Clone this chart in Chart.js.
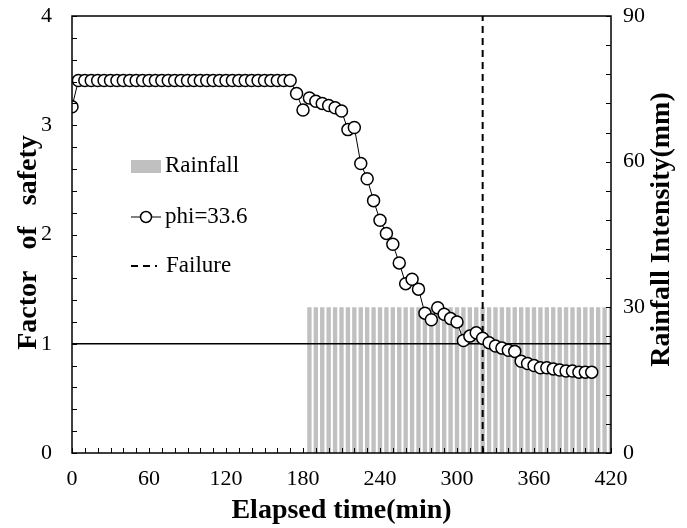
<!DOCTYPE html>
<html>
<head>
<meta charset="utf-8">
<script src="https://cdn.jsdelivr.net/npm/chart.js@4.4.0/dist/chart.umd.min.js"></script>
<style>
  html, body { margin: 0; padding: 0; background: #fff; }
  #wrap { width: 687px; height: 528px; }
</style>
</head>
<body>
<div id="wrap"><canvas id="chart" width="687" height="528"></canvas></div>
<script>
// elapsed time (min) of each factor of safety point
var fosTime = [0, 5, 10, 15, 20, 25, 30, 35, 40, 45, 50, 55, 60, 65, 70, 75, 80, 85, 90, 95,
  100, 105, 110, 115, 120, 125, 130, 135, 140, 145, 150, 155, 160, 165, 170, 175, 180, 185, 190, 195,
  200, 205, 210, 215, 220, 225, 230, 235, 240, 245, 250, 255, 260, 265, 270, 275, 280, 285, 290, 295,
  300, 305, 310, 315, 320, 325, 330, 335, 340, 345, 350, 355, 360, 365, 370, 375, 380, 385, 390, 395,
  400, 405];
var fosValue = [3.17, 3.41, 3.41, 3.41, 3.41, 3.41, 3.41, 3.41, 3.41, 3.41, 3.41, 3.41, 3.41, 3.41, 3.41, 3.41, 3.41, 3.41, 3.41, 3.41,
  3.41, 3.41, 3.41, 3.41, 3.41, 3.41, 3.41, 3.41, 3.41, 3.41, 3.41, 3.41, 3.41, 3.41, 3.41, 3.29, 3.14, 3.25, 3.22, 3.20,
  3.18, 3.16, 3.13, 2.96, 2.98, 2.65, 2.51, 2.31, 2.13, 2.01, 1.91, 1.74, 1.55, 1.59, 1.50, 1.28, 1.22, 1.33, 1.27, 1.23,
  1.20, 1.03, 1.07, 1.10, 1.05, 1.01, 0.98, 0.96, 0.94, 0.93, 0.84, 0.82, 0.80, 0.78, 0.78, 0.77, 0.76, 0.75, 0.75, 0.74,
  0.74, 0.74];

// rainfall bars
var rainTime = [185, 190, 195, 200, 205, 210, 215, 220, 225, 230, 235, 240, 245, 250, 255, 260,
  265, 270, 275, 280, 285, 290, 295, 300, 305, 310, 315, 320, 325, 330, 335, 340,
  345, 350, 355, 360, 365, 370, 375, 380, 385, 390, 395, 400, 405, 410, 415, 420];
var rainValue = [30, 30, 30, 30, 30, 30, 30, 30, 30, 30, 30, 30, 30, 30, 30, 30,
  30, 30, 30, 30, 30, 30, 30, 30, 30, 30, 30, 30, 30, 30, 30, 30,
  30, 30, 30, 30, 30, 30, 30, 30, 30, 30, 30, 30, 30, 30, 30, 30];

var failureTime = 320;
var fosLimit = 1;

var xTicks = [0, 60, 120, 180, 240, 300, 360, 420];
var yTicks = [0, 1, 2, 3, 4];
var y2Ticks = [0, 30, 60, 90];

var serif = "'Liberation Serif', 'Times New Roman', serif";

function pairs(xs, ys) {
  var out = [];
  for (var i = 0; i < xs.length; i++) out.push({ x: xs[i], y: ys[i] });
  return out;
}

function fixWidth(w) {
  return function(scale) {
    scale.width = w;
    scale.paddingTop = 0;
    scale.paddingBottom = 0;
  };
}

function sideTitle(ctx, text, x, y) {
  ctx.save();
  ctx.translate(x, y);
  ctx.rotate(-Math.PI / 2);
  ctx.font = 'bold 28px ' + serif;
  ctx.fillStyle = '#000';
  ctx.textAlign = 'center';
  ctx.textBaseline = 'middle';
  ctx.fillText(text, 0, 0);
  ctx.restore();
}

// inward ticks, box, side titles and legend
var framePlugin = {
  id: 'frame',
  afterDatasetsDraw: function(chart) {
    var ctx = chart.ctx;
    var a = chart.chartArea;
    var sx = chart.scales.x, sy = chart.scales.y, sy2 = chart.scales.y2;
    ctx.save();
    ctx.strokeStyle = '#000';
    ctx.lineWidth = 1.5;
    ctx.strokeRect(a.left, a.top, a.right - a.left, a.bottom - a.top);
    ctx.lineWidth = 1;
    ctx.beginPath();
    for (var t = 0; t <= 420; t += 10) {
      var px = Math.round(sx.getPixelForValue(t)) + 0.5;
      ctx.moveTo(px, a.bottom);
      ctx.lineTo(px, a.bottom - 5);
    }
    for (var v = 0; v <= 4.001; v += 0.2) {
      var py = Math.round(sy.getPixelForValue(v)) + 0.5;
      ctx.moveTo(a.left, py);
      ctx.lineTo(a.left + 5, py);
    }
    for (var r = 0; r <= 90; r += 6) {
      var py2 = Math.round(sy2.getPixelForValue(r)) + 0.5;
      ctx.moveTo(a.right, py2);
      ctx.lineTo(a.right - 5, py2);
    }
    ctx.stroke();

    var mid = (a.top + a.bottom) / 2;
    sideTitle(ctx, 'Factor   of   safety', sy.left + 29, mid + 8);
    sideTitle(ctx, 'Rainfall Intensity(mm)', sy2.right - 25, mid - 5);

    // legend
    var lx = a.left + 59, ly = a.top + 150;
    ctx.font = '23px ' + serif;
    ctx.textBaseline = 'middle';
    ctx.fillStyle = '#c0c0c0';
    ctx.fillRect(lx, ly - 6, 30, 13);
    ctx.fillStyle = '#000';
    ctx.fillText('Rainfall', lx + 34, ly);

    ly += 51;
    ctx.lineWidth = 1;
    ctx.beginPath();
    ctx.moveTo(lx, ly);
    ctx.lineTo(lx + 30, ly);
    ctx.stroke();
    ctx.beginPath();
    ctx.arc(lx + 15, ly, 5.5, 0, Math.PI * 2);
    ctx.fillStyle = '#fff';
    ctx.fill();
    ctx.lineWidth = 1.5;
    ctx.stroke();
    ctx.fillStyle = '#000';
    ctx.fillText('phi=33.6', lx + 34, ly);

    ly += 49;
    ctx.lineWidth = 2;
    ctx.setLineDash([7, 5]);
    ctx.beginPath();
    ctx.moveTo(lx, ly);
    ctx.lineTo(lx + 26, ly);
    ctx.stroke();
    ctx.setLineDash([]);
    ctx.fillText('Failure', lx + 35, ly);
    ctx.restore();
  }
};

var ctx = document.getElementById('chart');
var myChart = new Chart(ctx, {
  type: 'bar',
  data: {
    datasets: [
      {
        type: 'line',
        label: 'phi=33.6',
        data: pairs(fosTime, fosValue),
        xAxisID: 'x',
        yAxisID: 'y',
        borderColor: '#000',
        borderWidth: 1,
        pointRadius: 6,
        pointBorderWidth: 1.5,
        pointBackgroundColor: '#fff',
        pointBorderColor: '#000',
        tension: 0,
        order: 0
      },
      {
        type: 'line',
        label: 'FS = 1',
        data: [{ x: 0, y: fosLimit }, { x: 420, y: fosLimit }],
        yAxisID: 'y',
        borderColor: '#000',
        borderWidth: 1.5,
        pointRadius: 0,
        order: 1
      },
      {
        type: 'line',
        label: 'Failure',
        data: [{ x: failureTime, y: 0 }, { x: failureTime, y: 4 }],
        yAxisID: 'y',
        borderColor: '#000',
        borderWidth: 2,
        borderDash: [7, 5],
        pointRadius: 0,
        order: 1
      },
      {
        type: 'bar',
        label: 'Rainfall',
        data: pairs(rainTime, rainValue),
        yAxisID: 'y2',
        backgroundColor: '#c0c0c0',
        borderWidth: 0,
        categoryPercentage: 1,
        barPercentage: 0.68,
        order: 3
      }
    ]
  },
  options: {
    responsive: false,
    animation: false,
    layout: { padding: { top: 16, left: 0, right: 0, bottom: 0 } },
    plugins: {
      legend: { display: false },
      tooltip: { enabled: false }
    },
    scales: {
      x: {
        type: 'linear',
        min: 0,
        max: 420,
        offset: false,
        afterBuildTicks: function(scale) { scale.ticks = xTicks.map(function(v) { return { value: v }; }); },
        afterFit: function(scale) { scale.height = 75; scale.paddingLeft = 0; scale.paddingRight = 0; },
        grid: { display: false, drawTicks: false },
        border: { display: false },
        ticks: { color: '#000', font: { family: serif, size: 22 }, padding: 13, maxRotation: 0 },
        title: { display: true, text: 'Elapsed time(min)', color: '#000', font: { family: serif, size: 28, weight: 'bold' }, padding: { top: 0, bottom: 0 } }
      },
      y: {
        position: 'left',
        min: 0,
        max: 4,
        afterBuildTicks: function(scale) { scale.ticks = yTicks.map(function(v) { return { value: v }; }); },
        afterFit: fixWidth(72),
        grid: { display: false, drawTicks: false },
        border: { display: false },
        ticks: { color: '#000', font: { family: serif, size: 22 }, padding: 20 }
      },
      y2: {
        position: 'right',
        min: 0,
        max: 90,
        afterBuildTicks: function(scale) { scale.ticks = y2Ticks.map(function(v) { return { value: v }; }); },
        afterFit: fixWidth(76),
        grid: { display: false, drawTicks: false },
        border: { display: false },
        ticks: { color: '#000', font: { family: serif, size: 22 }, padding: 12 }
      }
    }
  },
  plugins: [framePlugin]
});
</script>
</body>
</html>
